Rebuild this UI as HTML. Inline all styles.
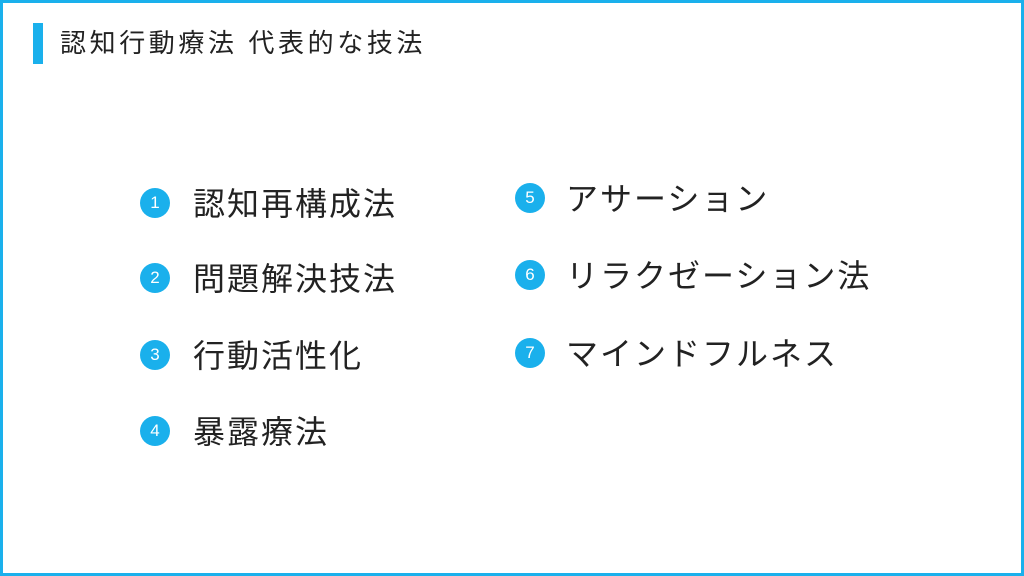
<!DOCTYPE html>
<html><head><meta charset="utf-8"><style>
body{margin:0;width:1024px;height:576px;overflow:hidden;background:#fff;}
.f{position:absolute;left:0;top:0;width:1018px;height:570px;border:3px solid #1ab0ec;}
.bar{position:absolute;left:33px;top:23px;width:10px;height:41px;background:#1ab0ec;}
.t{position:absolute;white-space:nowrap;font-family:"Liberation Sans","Noto Sans CJK JP",sans-serif;color:#222;line-height:1;letter-spacing:2px;}
.c{position:absolute;width:30px;height:30px;border-radius:50%;background:#1ab0ec;color:#fff;font:17px "Liberation Sans",sans-serif;text-align:center;line-height:30px;}
</style></head><body>
<div class="f"></div>
<div class="bar"></div>
<div class="t" style="left:60px;top:30px;font-size:26px;letter-spacing:3.6px">認知行動療法 代表的な技法</div>

<div class="c" style="left:140px;top:188px">1</div><div class="t" style="left:193px;top:188px;font-size:32px">認知再構成法</div>
<div class="c" style="left:140px;top:263px">2</div><div class="t" style="left:193px;top:263px;font-size:32px">問題解決技法</div>
<div class="c" style="left:140px;top:340px">3</div><div class="t" style="left:193px;top:340px;font-size:32px">行動活性化</div>
<div class="c" style="left:140px;top:416px">4</div><div class="t" style="left:193px;top:416px;font-size:32px">暴露療法</div>

<div class="c" style="left:515px;top:183px">5</div><div class="t" style="left:566px;top:183px;font-size:32px">アサーション</div>
<div class="c" style="left:515px;top:260px">6</div><div class="t" style="left:566px;top:260px;font-size:32px">リラクゼーション法</div>
<div class="c" style="left:515px;top:338px">7</div><div class="t" style="left:566px;top:338px;font-size:32px">マインドフルネス</div>
</body></html>
